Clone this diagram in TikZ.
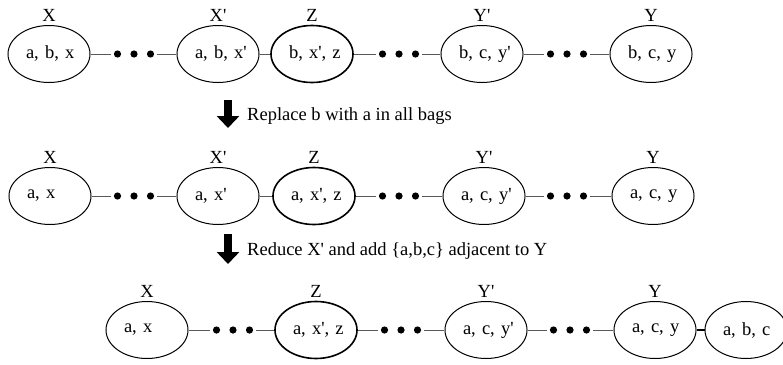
\documentclass[tikz,border=0pt]{standalone}
\usepackage{fontspec}
\setmainfont{Liberation Serif}
\usetikzlibrary{positioning,arrows.meta,shapes.geometric}
\newcommand{\pq}{\textquotesingle}
\tikzset{
  bag/.style={draw, ellipse, line width=1pt, minimum width=77pt, minimum height=57pt,
              inner sep=0pt, text width=58pt, align=left,
              execute at begin node={\hspace*{6pt}}},
  zbag/.style={bag, line width=1.6pt},
  dotrow/.style={minimum width=46pt, minimum height=8pt, inner sep=0pt,
                 path picture={\foreach \k in {-16.5,0,16.5}
                   \fill ([xshift=\k pt]path picture bounding box.center) circle (3.6pt);}},
  link/.style={draw=black!65, line width=0.8pt},
  bigarrow/.style={line width=8pt, -{Triangle[width=22pt,length=12pt]}}
}
\begin{document}
\begin{tikzpicture}[x=1pt, y=-1pt, font=\fontsize{18.5}{22}\selectfont]
      \useasboundingbox (0,0) rectangle (783,364);
      % first row
      \draw (49,54) node (x1) [bag] {a, b, x}
            (134,54) node (d11) [dotrow] {}
            (218,54) node (xp1) [bag] {a, b, x\pq}
            (312,54) node (z1) [zbag] {b, x\pq, z}
            (399,54) node (d12) [dotrow] {}
            (482,54) node (yp1) [bag] {b, c, y\pq}
            (567,54) node (d13) [dotrow] {}
            (651,54) node (y1) [bag] {b, c, y};
      \draw node (lx1) [above=0pt of x1] {X}
            node (lxp1) [above=0pt of xp1] {X\pq}
            node (lz1) [above=0pt of z1] {Z}
            node (lyp1) [above=0pt of yp1] {Y\pq}
            node (ly1) [above=0pt of y1] {Y};
      \draw[link] (x1) edge (d11) (d11) edge (xp1) (xp1) edge (z1) (z1) edge (d12)
                  (d12) edge (yp1) (yp1) edge (d13) (d13) edge (y1);
      % second row
      \draw (50,196) node (x2) [bag] {a, x}
            (134,196) node (d21) [dotrow] {}
            (218,196) node (xp2) [bag] {a, x\pq}
            (314,196) node (z2) [zbag] {a, x\pq, z}
            (399,196) node (d22) [dotrow] {}
            (484,196) node (yp2) [bag] {a, c, y\pq}
            (567,196) node (d23) [dotrow] {}
            (653,196) node (y2) [bag] {a, c, y};
      \draw node (lx2) [above=0pt of x2] {X}
            node (lxp2) [above=0pt of xp2] {X\pq}
            node (lz2) [above=0pt of z2] {Z}
            node (lyp2) [above=0pt of yp2] {Y\pq}
            node (ly2) [above=0pt of y2] {Y};
      \draw[link] (x2) edge (d21) (d21) edge (xp2) (xp2) edge (z2) (z2) edge (d22)
                  (d22) edge (yp2) (yp2) edge (d23) (d23) edge (y2);
      % third row
      \draw (147,330) node (x3) [bag] {a, x}
            (233,330) node (d31) [dotrow] {}
            (316,330) node (z3) [zbag] {a, x\pq, z}
            (401,330) node (d32) [dotrow] {}
            (486,330) node (yp3) [bag] {a, c, y\pq}
            (570,330) node (d33) [dotrow] {}
            (655,330) node (y3) [bag] {a, c, y}
            (746,330) node (abc) [bag, minimum width=72pt] {a, b, c};
      \draw node (lx3) [above=0pt of x3] {X}
            node (lz3) [above=0pt of z3] {Z}
            node (lyp3) [above=0pt of yp3] {Y\pq}
            node (ly3) [above=0pt of y3] {Y};
      \draw[link] (x3) edge (d31) (d31) edge (z3) (z3) edge (d32)
                  (d32) edge (yp3) (yp3) edge (d33) (d33) edge (y3);
      \draw[line width=1.6pt] (y3) -- (abc);
      % steps
      \coordinate (top1) at (228,100);
      \coordinate (tip1) at (228,128);
      \coordinate (top2) at (228,234);
      \coordinate (tip2) at (228,264);
      \draw[bigarrow] (top1) -- (tip1);
      \draw[bigarrow] (top2) -- (tip2);
      \node (step1) [anchor=base west, inner sep=0pt] at (247,120) {Replace b with a in all bags};
      \node (step2) [anchor=base west, inner sep=0pt] at (247,255) {Reduce X\pq{} and add \{a,b,c\} adjacent to Y};
\end{tikzpicture}
\end{document}
